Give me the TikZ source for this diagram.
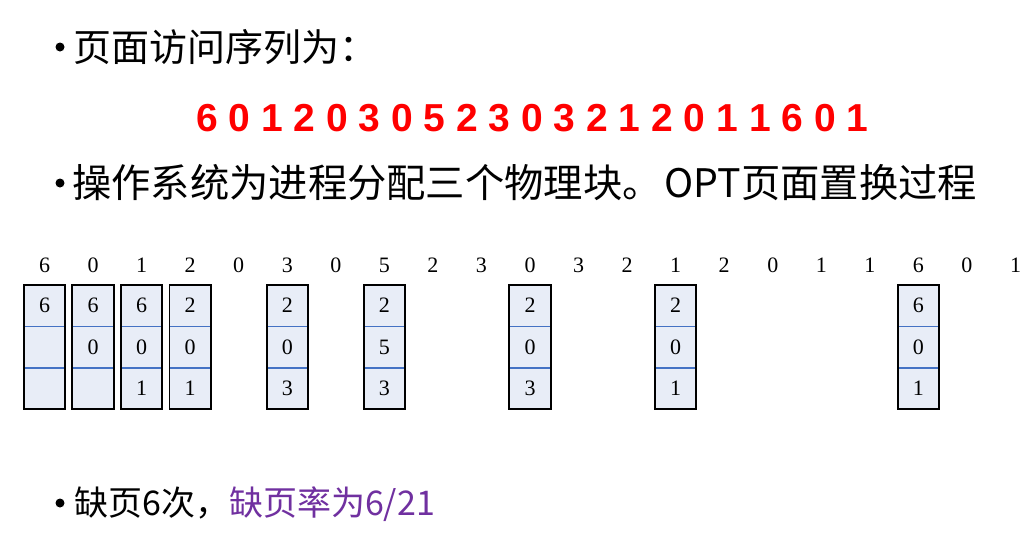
\documentclass[tikz,border=0pt]{standalone}
\usepackage{fontspec}
\newfontfamily\cjk{Noto Sans CJK SC}
\newfontfamily\tnr{Liberation Serif}
\newfontfamily\arl{Liberation Sans}
\definecolor{cellfill}{HTML}{E8EDF7}
\definecolor{divblue}{HTML}{4472C4}
\definecolor{seqred}{HTML}{FF0000}
\definecolor{ratepurple}{HTML}{7030A0}
\begin{document}
\begin{tikzpicture}[x=1pt,y=-1pt,
  bulletdot/.style={circle,fill=black,inner sep=0,minimum size=9pt},
  textline/.style={anchor=west,inner sep=0},
  refnum/.style={font=\tnr\fontsize{22}{22}\selectfont,inner sep=0},
  cell/.style={fill=cellfill,minimum width=41pt,minimum height=41.33pt,inner sep=0,font=\tnr\fontsize{22}{22}\selectfont},
  divider/.style={draw=divblue,line width=1.5pt},
  frame/.style={draw=black,line width=1.9pt}]
\useasboundingbox (0,0) rectangle (1035,541);
\fill[white] (0,0) rectangle (1035,541);
% line 1
\node[bulletdot] (b1) at (60,47) {};
\node[textline,font=\cjk\fontsize{38}{38}\selectfont] (l1) at (73,47) {页面访问序列为：};
% red sequence
\node[textline,text=seqred,font=\arl\bfseries\fontsize{39}{39}\selectfont] (seq) at (196,118) {6 0 1 2 0 3 0 5 2 3 0 3 2 1 2 0 1 1 6 0 1};
% line 2
\node[bulletdot] (b2) at (60,183) {};
\node[textline,font=\cjk\fontsize{39.3}{39.3}\selectfont] (l2) at (72,183) {操作系统为进程分配三个物理块。\hspace{3pt}OPT页面置换过程};
% reference string
\foreach \v [count=\i from 0] in {6,0,1,2,0,3,0,5,2,3,0,3,2,1,2,0,1,1,6,0,1}{
  \node[refnum] (r\i) at ({44.5+48.55*\i},265) {\v};
}
% frame boxes
\foreach \k/\p/\q/\r in {0/6/{}/{},1/6/0/{},2/6/0/1,3/2/0/1,5/2/0/3,7/2/5/3,10/2/0/3,13/2/0/1,18/6/0/1}{
  \node[cell] (c\k a) at ({44.5+48.55*\k},305.67) {\p};
  \node[cell] (c\k b) at ({44.5+48.55*\k},347) {\q};
  \node[cell] (c\k c) at ({44.5+48.55*\k},388.33) {\r};
  \draw[divider] (c\k a.south west) -- (c\k a.south east);
  \draw[divider] (c\k b.south west) -- (c\k b.south east);
  \draw[frame] (c\k a.north west) rectangle (c\k c.south east);
}
% line 3
\node[bulletdot] (b3) at (60,503) {};
\node[textline,font=\cjk\fontsize{34}{34}\selectfont] (l3) at (74,504) {缺页6次，\textcolor{ratepurple}{缺页率为6/21}};
\end{tikzpicture}
\end{document}
